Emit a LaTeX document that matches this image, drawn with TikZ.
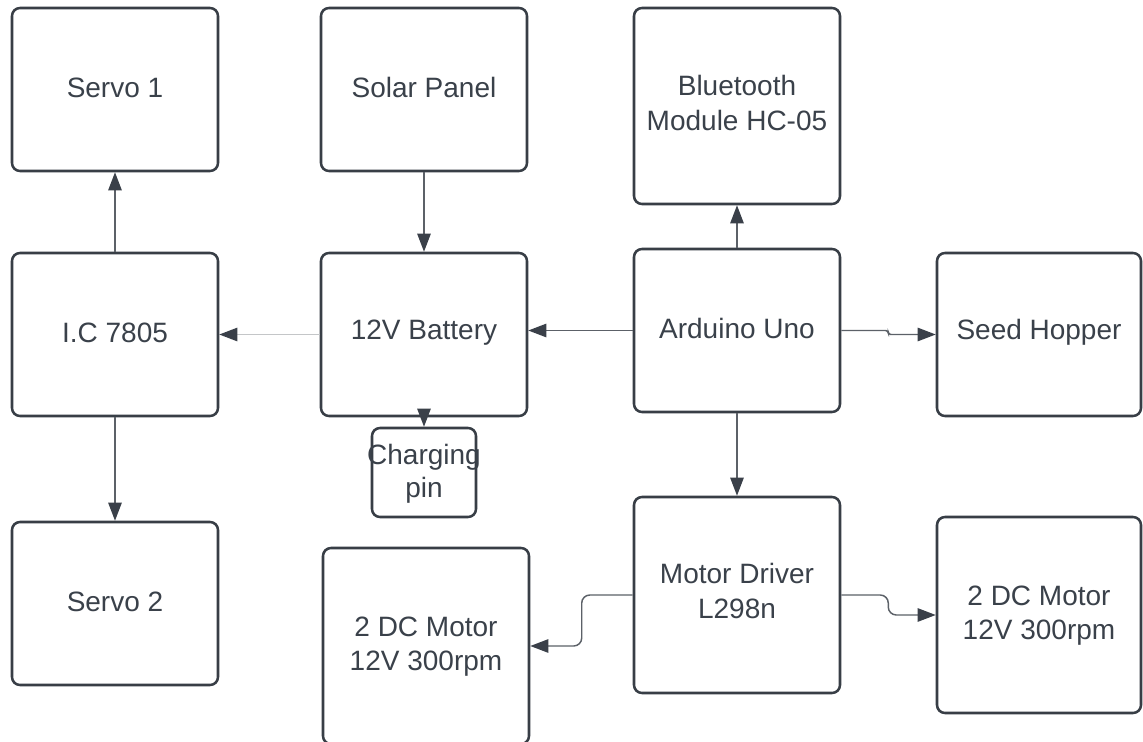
\documentclass[tikz,border=0pt]{standalone}
\usepackage{fontspec}
\setmainfont{Liberation Sans}
\usetikzlibrary{fit,arrows.meta}
\definecolor{boxline}{HTML}{383E46}
\definecolor{txt}{HTML}{3A414A}
\definecolor{conn}{HTML}{5C6168}
\definecolor{lightconn}{HTML}{C4C6C8}
\definecolor{tipc}{HTML}{3A4049}
\tikzset{
  box/.style={draw=boxline, line width=1.9pt, rounded corners=6pt, inner sep=0pt},
  lab/.style={align=center, text=txt, inner sep=0pt, yshift=1.5pt,
    font=\fontsize{21}{26}\selectfont},
  conn/.style={draw=conn, line width=1.1pt,
    -{Triangle[length=13.5pt,width=10pt,fill=tipc,color=tipc]}},
}
\begin{document}
\begin{tikzpicture}[x=0.75pt,y=-0.75pt]
\useasboundingbox (0,0) rectangle (1143,742);
\clip (0,0) rectangle (1143,742);
\fill[white] (0,0) rectangle (1143,742);
\node[box, fit={(12,8)(218,171)}, label={[lab]center:Servo 1}] (s1) {};
\node[box, fit={(321,8)(527,171)}, label={[lab]center:Solar Panel}] (sp) {};
\node[box, fit={(634,8)(840,204)}, label={[lab, yshift=1pt]center:Bluetooth\\Module HC-05}] (bt) {};
\node[box, fit={(12,253)(218,416)}, label={[lab]center:I.C 7805}] (ic) {};
\node[box, fit={(321,253)(527,416)}, label={[lab]center:12V Battery}] (bat) {};
\node[box, fit={(634,249)(840,412)}, label={[lab]center:Arduino Uno}] (ard) {};
\node[box, fit={(937,253)(1141,416)}, label={[lab]center:Seed Hopper}] (sh) {};
\node[box, fit={(372,428)(476,517)}, label={[lab, yshift=-2.5pt, font=\fontsize{21}{25}\selectfont]center:Charging\\pin}] (cp) {};
\node[box, fit={(12,522)(218,685)}, label={[lab]center:Servo 2}] (s2) {};
\node[box, fit={(323,548)(529,744)}, label={[lab, yshift=-2pt]center:2 DC Motor\\12V 300rpm}] (lm) {};
\node[box, fit={(634,497)(840,693)}, label={[lab, yshift=1.5pt]center:Motor Driver\\L298n}] (md) {};
\node[box, fit={(937,517)(1141,713)}, label={[lab, yshift=-2pt]center:2 DC Motor\\12V 300rpm}] (rm) {};

\draw[conn] (ic.north) -- (s1.south);
\draw[conn] (ic.south) -- (s2.north);
\draw[conn] (sp.south) -- (bat.north);
\draw[conn] (bat.south) -- (cp.north);
\draw[conn, draw=lightconn] (bat.west) -- (ic.east);
\draw[conn] (ard.west) -- (ard.west -| bat.east);
\draw[conn] (ard.north) -- (bt.south);
\draw[conn] (ard.south) -- (md.north);
\draw[conn, rounded corners=2pt] (ard.east) -- ++(47,0) |- (sh.west);
\draw[conn, rounded corners=6pt] (md.west) -- ++(-51,0) |- (lm.east);
\draw[conn, rounded corners=6pt] (md.east) -- ++(47,0) |- (rm.west);
\end{tikzpicture}
\end{document}
